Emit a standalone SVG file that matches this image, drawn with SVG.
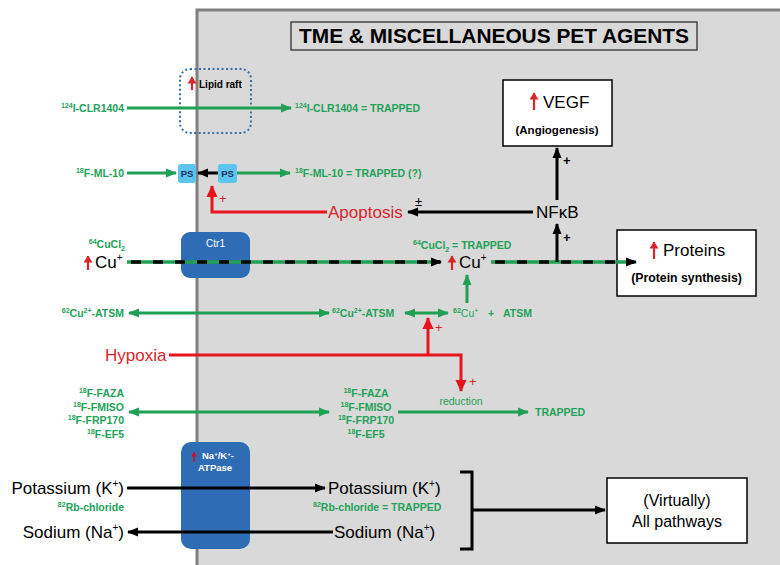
<svg xmlns="http://www.w3.org/2000/svg" width="780" height="565" viewBox="0 0 780 565">
<defs>
<style>
text{font-family:"Liberation Sans",Arial,sans-serif}
.g{fill:#22a258;font-weight:bold;font-size:10.5px}
.gn{fill:#22a258;font-size:10.5px}
.sup{font-size:7px}
.k{fill:#000;font-size:17px}
.r{fill:#d9262b;font-size:17px}
.gl{stroke:#1fa055;stroke-width:3;fill:none}
.bl{stroke:#000;stroke-width:3;fill:none}
.rl{stroke:#e8141b;stroke-width:3;fill:none}
.blue{fill:#2e6db5}
.ps{fill:#5bc5f0}
.pst{fill:#1d2e5a;font-weight:bold;font-size:9.5px}
.box{fill:#fff;stroke:#000;stroke-width:1.5}
.up{stroke:#d9262b;stroke-width:2.2;fill:none}
</style>
<marker id="ag" markerUnits="userSpaceOnUse" markerWidth="12" markerHeight="10" refX="10" refY="5" orient="auto-start-reverse"><path d="M0,0.5 L11,5 L0,9.5 z" fill="#1fa055"/></marker>
<marker id="ab" markerUnits="userSpaceOnUse" markerWidth="12" markerHeight="10" refX="10" refY="5" orient="auto-start-reverse"><path d="M0,0.5 L11,5 L0,9.5 z" fill="#000"/></marker>
<marker id="ar" markerUnits="userSpaceOnUse" markerWidth="13" markerHeight="12" refX="11" refY="6" orient="auto-start-reverse"><path d="M0,0.5 L12,6 L0,11.5 z" fill="#e8141b"/></marker>
<marker id="ars" markerUnits="userSpaceOnUse" markerWidth="8" markerHeight="11" refX="6.5" refY="5" orient="auto"><path d="M0,0.5 L7,5 L0,9.5 z" fill="#d9262b"/></marker>
<marker id="arss" markerUnits="userSpaceOnUse" markerWidth="6" markerHeight="7" refX="4.5" refY="3.25" orient="auto"><path d="M0,0.5 L5,3.25 L0,6 z" fill="#c8102e"/></marker>
</defs>

<rect x="0" y="0" width="780" height="565" fill="#fff"/>
<g id="cell-panel">
<rect x="197" y="10" width="600" height="570" fill="#d9d9d9" stroke="#808080" stroke-width="3"/>
</g>

<g id="title">
<rect x="291" y="22" width="406" height="28" fill="none" stroke="#222" stroke-width="1.2"/>
<text x="494" y="43" text-anchor="middle" font-weight="bold" font-size="20" textLength="390" lengthAdjust="spacingAndGlyphs">TME &amp; MISCELLANEOUS PET AGENTS</text>
</g>

<g id="lipid-raft">
<rect x="180" y="69" width="71" height="64" rx="10" fill="none" stroke="#3a6fa8" stroke-width="2" stroke-dasharray="2 2.5"/>
<path class="up" d="M192 90 V77" marker-end="url(#ars)"/>
<text x="199" y="88" font-weight="bold" font-size="10">Lipid raft</text>
</g>

<g id="clr1404">
<text class="g" x="124" y="112" text-anchor="end"><tspan class="sup" dy="-4">124</tspan><tspan dy="4">I-CLR1404</tspan></text>
<text class="g" x="295" y="112"><tspan class="sup" dy="-4">124</tspan><tspan dy="4">I-CLR1404 = TRAPPED</tspan></text>
</g>

<g id="ml10">
<text class="g" x="124" y="177" text-anchor="end"><tspan class="sup" dy="-4">18</tspan><tspan dy="4">F-ML-10</tspan></text>
<rect class="ps" x="178" y="164" width="18" height="19" rx="3"/>
<text class="pst" x="187" y="177" text-anchor="middle">PS</text>
<rect class="ps" x="218" y="164" width="19" height="19" rx="3"/>
<text class="pst" x="227.5" y="177" text-anchor="middle">PS</text>
<text x="219" y="203" fill="#d9262b" font-size="13">+</text>
<text class="g" x="295" y="177"><tspan class="sup" dy="-4">18</tspan><tspan dy="4">F-ML-10 = TRAPPED (?)</tspan></text>
</g>

<g id="apoptosis">
<text class="r" x="328" y="218">Apoptosis</text>
<text x="415" y="206" font-size="13">±</text>
</g>

<g id="nfkb">
<text class="k" x="536" y="218" font-size="16.5">NFκB</text>
<text x="563" y="165" font-size="13" font-weight="bold">+</text>
<text x="563" y="242" font-size="13" font-weight="bold">+</text>
</g>

<g id="vegf">
<rect class="box" x="503" y="80" width="109" height="66"/>
<path class="up" d="M534 110 V93" stroke-width="2.6" marker-end="url(#ars)"/>
<text class="k" x="543" y="108">VEGF</text>
<text x="557" y="134" text-anchor="middle" font-weight="bold" font-size="11.5">(Angiogenesis)</text>
</g>

<g id="ctr1">
<rect class="blue" x="181" y="232" width="69" height="46" rx="9"/>
<text x="215.5" y="247" text-anchor="middle" fill="#fff" font-size="10">Ctr1</text>
</g>

<g id="cu-left">
<text class="g" x="125" y="248" text-anchor="end" font-size="11"><tspan class="sup" dy="-4">64</tspan><tspan dy="4">CuCl</tspan><tspan class="sup" dy="3">2</tspan></text>
<path class="up" d="M88 270 V256" stroke-width="2.4" marker-end="url(#ars)"/>
<text class="k" x="95" y="268">Cu<tspan font-size="10" dy="-7">+</tspan></text>
</g>

<g id="cu-right">
<text class="g" x="413" y="249"><tspan class="sup" dy="-4">64</tspan><tspan dy="4">CuCl</tspan><tspan class="sup" dy="3">2</tspan><tspan dy="-3"> = TRAPPED</tspan></text>
<path class="up" d="M452 270 V256" stroke-width="2.4" marker-end="url(#ars)"/>
<text class="k" x="459" y="268">Cu<tspan font-size="10" dy="-7">+</tspan></text>
</g>

<g id="proteins">
<rect class="box" x="617" y="230" width="139" height="66"/>
<path class="up" d="M654 259 V242" stroke-width="2.6" marker-end="url(#ars)"/>
<text class="k" x="663" y="256">Proteins</text>
<text x="686.5" y="282" text-anchor="middle" font-weight="bold" font-size="12.3">(Protein synthesis)</text>
</g>

<g id="atsm">
<text class="g" x="124" y="317" text-anchor="end"><tspan class="sup" dy="-4">62</tspan><tspan dy="4">Cu</tspan><tspan class="sup" dy="-4">2+</tspan><tspan dy="4">-ATSM</tspan></text>
<text class="g" x="332" y="317"><tspan class="sup" dy="-4">62</tspan><tspan dy="4">Cu</tspan><tspan class="sup" dy="-4">2+</tspan><tspan dy="4">-ATSM</tspan></text>
<text class="g" x="453" y="317"><tspan class="sup" dy="-4">62</tspan><tspan font-weight="normal" dy="4">Cu</tspan><tspan class="sup" font-weight="normal" dy="-4">+</tspan></text>
<text class="g" x="488" y="317">+</text>
<text class="g" x="503" y="317">ATSM</text>
</g>

<g id="hypoxia">
<text class="r" x="105" y="361">Hypoxia</text>
<text x="435" y="332" fill="#d9262b" font-size="13">+</text>
<text x="469" y="386" fill="#d9262b" font-size="13">+</text>
<text class="gn" x="461" y="405" text-anchor="middle" font-size="10">reduction</text>
</g>

<g id="nitroimidazoles-left">
<text class="g" x="124" y="397" text-anchor="end"><tspan class="sup" dy="-4">18</tspan><tspan dy="4">F-FAZA</tspan></text>
<text class="g" x="124" y="411" text-anchor="end" font-weight="normal"><tspan class="sup" dy="-4">18</tspan><tspan dy="4">F-FMISO</tspan></text>
<text class="g" x="124" y="424" text-anchor="end"><tspan class="sup" dy="-4">18</tspan><tspan dy="4">F-FRP170</tspan></text>
<text class="g" x="124" y="438" text-anchor="end"><tspan class="sup" dy="-4">18</tspan><tspan dy="4">F-EF5</tspan></text>
</g>

<g id="nitroimidazoles-right">
<text class="g" x="366" y="397" text-anchor="middle"><tspan class="sup" dy="-4">18</tspan><tspan dy="4">F-FAZA</tspan></text>
<text class="g" x="366" y="411" text-anchor="middle" font-weight="normal"><tspan class="sup" dy="-4">18</tspan><tspan dy="4">F-FMISO</tspan></text>
<text class="g" x="366" y="424" text-anchor="middle"><tspan class="sup" dy="-4">18</tspan><tspan dy="4">F-FRP170</tspan></text>
<text class="g" x="366" y="438" text-anchor="middle"><tspan class="sup" dy="-4">18</tspan><tspan dy="4">F-EF5</tspan></text>
<text class="g" x="535" y="416">TRAPPED</text>
</g>

<g id="na-k-atpase">
<rect class="blue" x="181" y="442" width="69" height="107" rx="10"/>
<path d="M194 462 V452" stroke="#c8102e" stroke-width="1.5" fill="none" marker-end="url(#arss)"/>
<text x="202" y="459" fill="#fff" font-weight="bold" font-size="9.5">Na<tspan font-size="6" dy="-3">+</tspan><tspan dy="3">/K</tspan><tspan font-size="6" dy="-3">+</tspan><tspan dy="3">-</tspan></text>
<text x="215" y="471" fill="#fff" font-weight="bold" font-size="9.5" text-anchor="middle">ATPase</text>
</g>

<g id="potassium">
<text class="k" x="124" y="494" text-anchor="end">Potassium (K<tspan font-size="10" dy="-7">+</tspan><tspan dy="7">)</tspan></text>
<text class="g" x="124" y="511" text-anchor="end"><tspan class="sup" dy="-4">82</tspan><tspan dy="4">Rb-chloride</tspan></text>
<text class="k" x="328" y="494">Potassium (K<tspan font-size="10" dy="-7">+</tspan><tspan dy="7">)</tspan></text>
<text class="g" x="313" y="511"><tspan class="sup" dy="-4">82</tspan><tspan dy="4">Rb-chloride = TRAPPED</tspan></text>
</g>

<g id="sodium">
<text class="k" x="124" y="538" text-anchor="end">Sodium (Na<tspan font-size="10" dy="-7">+</tspan><tspan dy="7">)</tspan></text>
<text class="k" x="334" y="538">Sodium (Na<tspan font-size="10" dy="-7">+</tspan><tspan dy="7">)</tspan></text>
</g>

<g id="all-pathways">
<rect class="box" x="607" y="478" width="140" height="65"/>
<text x="677" y="506" text-anchor="middle" font-size="16">(Virtually)</text>
<text x="677" y="527" text-anchor="middle" font-size="16">All pathways</text>
</g>

<g id="connectors">
<path class="gl" d="M127 108 H291" marker-end="url(#ag)"/>
<path class="gl" d="M127 173 H176" marker-end="url(#ag)"/>
<path class="bl" d="M218 173 H198" stroke-width="2.5" marker-end="url(#ab)"/>
<path class="gl" d="M237 173 H290" marker-end="url(#ag)"/>
<path class="rl" d="M327 212 H212 V186" marker-end="url(#ar)"/>
<path class="bl" d="M533 212 H408" marker-end="url(#ab)"/>
<path class="bl" d="M557 200 V148" marker-end="url(#ab)"/>
<path d="M127 262 H440" stroke="#1fa055" stroke-width="3.5" fill="none"/>
<path d="M131 262 H440" stroke="#000" stroke-width="3.5" stroke-dasharray="10 12" fill="none"/>
<path d="M438 262 H441" stroke="#000" stroke-width="3" marker-end="url(#ab)"/>
<path d="M491 262 H634" stroke="#1fa055" stroke-width="3.5" fill="none"/>
<path d="M495 262 H634" stroke="#000" stroke-width="3.5" stroke-dasharray="10 12" fill="none"/>
<path d="M632 262 H636" stroke="#000" stroke-width="3" marker-end="url(#ab)"/>
<path class="bl" d="M557 262 V224" marker-end="url(#ab)"/>
<path class="gl" d="M129 313 H329" marker-start="url(#ag)" marker-end="url(#ag)"/>
<path class="gl" d="M405 313 H448" marker-start="url(#ag)" marker-end="url(#ag)"/>
<path class="gl" d="M467 303 V275" marker-end="url(#ag)"/>
<path class="rl" d="M169 355 H461 V391" marker-end="url(#ar)"/>
<path class="rl" d="M428 355 V318" marker-end="url(#ar)"/>
<path class="gl" d="M129 412 H329" marker-start="url(#ag)" marker-end="url(#ag)"/>
<path class="gl" d="M398 412 H528" marker-end="url(#ag)"/>
<path class="bl" d="M127 488 H325" marker-end="url(#ab)"/>
<path class="bl" d="M333 532 H128" marker-end="url(#ab)"/>
<path class="bl" d="M460 472 H472 V549 H460"/>
<path class="bl" d="M473 510 H605" marker-end="url(#ab)"/>
</g>
</svg>
